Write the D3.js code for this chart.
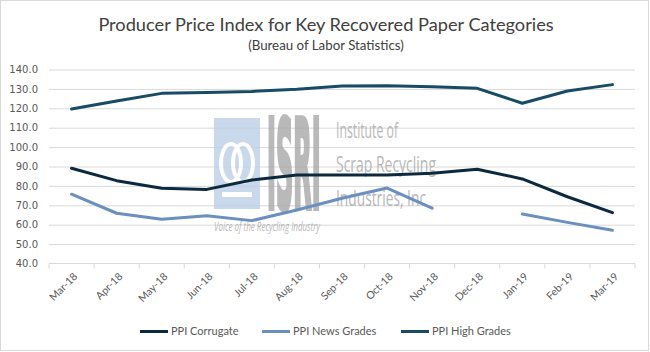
<!DOCTYPE html>
<html>
<head>
<meta charset="utf-8">
<script src="https://cdn.jsdelivr.net/npm/d3@7"></script>
<style>
  body { margin: 0; background: #fff; }
  svg { display: block; }
</style>
</head>
<body>
<div id="wrapper"></div>
<script>
// DATA
const months = ['Mar-18', 'Apr-18', 'May-18', 'Jun-18', 'Jul-18', 'Aug-18', 'Sep-18',
  'Oct-18', 'Nov-18', 'Dec-18', 'Jan-19', 'Feb-19', 'Mar-19']
const corrugate = [89.1, 82.7, 78.8, 78.2, 83.0, 85.6, 85.6, 85.6, 86.5, 88.6, 83.6, 74.4, 66.2]
const newsGrades = [75.7, 65.9, 62.8, 64.6, 62.1, 67.6, 73.6, 78.9, 68.5, null, 65.5, 61.2, 57.1]
const highGrades = [119.6, 123.8, 127.7, 128.2, 128.7, 129.8, 131.5, 131.6, 131.1, 130.3, 122.6, 128.9, 132.2]
const yTicks = [40, 50, 60, 70, 80, 90, 100, 110, 120, 130, 140]

const seriesNames = ['PPI Corrugate', 'PPI News Grades', 'PPI High Grades']
const seriesColors = ['#0c2a3f', '#6a8fc0', '#184b66']

function drawChart() {
  const series = [corrugate, newsGrades, highGrades].map((vals, i) => ({
    name: seriesNames[i],
    color: seriesColors[i],
    values: vals.map((v, j) => ({ month: months[j], value: v }))
  }))

  // DIMENSIONS
  const dimensions = {
    width: 650,
    height: 352,
    margin: { top: 69.5, right: 15, bottom: 88.5, left: 49 }
  }
  dimensions.boundedWidth = dimensions.width - dimensions.margin.left - dimensions.margin.right
  dimensions.boundedHeight = dimensions.height - dimensions.margin.top - dimensions.margin.bottom

  const wrapper = d3.select('#wrapper')
    .append('svg')
    .attr('width', dimensions.width)
    .attr('height', dimensions.height)

  // outer border
  wrapper.append('rect')
    .attr('x', 0.5).attr('y', 0.5)
    .attr('width', 648).attr('height', 350)
    .attr('fill', '#fff')
    .attr('stroke', '#d9d9d9')

  const bounds = wrapper.append('g')
    .attr('transform', `translate(${dimensions.margin.left}, ${dimensions.margin.top})`)

  // SCALES
  const xScale = d3.scaleBand()
    .domain(months)
    .range([0, dimensions.boundedWidth])
    .padding(0)

  const yScale = d3.scaleLinear()
    .domain([40, 140])
    .range([dimensions.boundedHeight, 0])

  const xCenter = d => xScale(d.month) + xScale.bandwidth() / 2

  // gridlines
  const grid = bounds.append('g')
    .call(d3.axisLeft(yScale)
      .tickValues(yTicks.filter(t => t > 40))
      .tickSize(-dimensions.boundedWidth)
      .tickFormat(''))
  grid.select('.domain').remove()
  grid.selectAll('line').attr('stroke', '#d9d9d9').attr('stroke-width', 1)

  // y axis labels
  const yAxis = bounds.append('g')
    .call(d3.axisLeft(yScale)
      .tickValues(yTicks)
      .tickSize(0)
      .tickPadding(11)
      .tickFormat(d3.format('.1f')))
  yAxis.select('.domain').remove()
  yAxis.selectAll('text')
    .attr('fill', '#595959')
    .style('font-family', '"DejaVu Sans", Verdana, sans-serif')
    .style('font-size', '10px')

  // x axis baseline and tick marks at band edges
  const xAxis = bounds.append('g')
    .attr('transform', `translate(0, ${dimensions.boundedHeight})`)
  xAxis.append('line')
    .attr('x1', 0).attr('x2', dimensions.boundedWidth)
    .attr('stroke', '#d9d9d9')
  const edges = months.map(m => xScale(m)).concat([dimensions.boundedWidth])
  xAxis.selectAll('.tick-mark')
    .data(edges)
    .join('line')
    .attr('class', 'tick-mark')
    .attr('x1', d => d).attr('x2', d => d)
    .attr('y1', 0).attr('y2', 5)
    .attr('stroke', '#d9d9d9')
  xAxis.selectAll('.x-label')
    .data(months)
    .join('text')
    .attr('class', 'x-label')
    .attr('transform', d => `translate(${xScale(d) + xScale.bandwidth() / 2 + 4}, 11) rotate(-45)`)
    .attr('text-anchor', 'end')
    .attr('dy', '0.35em')
    .attr('fill', '#595959')
    .style('font-family', 'Lato, "Open Sans", sans-serif')
    .style('font-size', '10.5px')
    .text(d => d)

  // WATERMARK (ISRI logo)
  const logo = bounds.append('g')
    .attr('opacity', 0.8)
  const lx = 214 - dimensions.margin.left
  const ly = 118 - dimensions.margin.top
  logo.append('rect')
    .attr('x', lx).attr('y', ly)
    .attr('width', 46).attr('height', 91)
    .attr('fill', '#bccfe6')
  logo.append('ellipse')
    .attr('cx', lx + 17).attr('cy', ly + 45)
    .attr('rx', 10).attr('ry', 19)
    .attr('fill', 'none').attr('stroke', '#fff').attr('stroke-width', 4)
  logo.append('ellipse')
    .attr('cx', lx + 29).attr('cy', ly + 45)
    .attr('rx', 10).attr('ry', 19)
    .attr('fill', 'none').attr('stroke', '#fff').attr('stroke-width', 4)
  logo.append('rect')
    .attr('x', lx + 8).attr('y', ly + 74)
    .attr('width', 30).attr('height', 5)
    .attr('fill', '#fff')
  // tall condensed letters: squeeze a bold face with a transform
  logo.append('text')
    .attr('transform', `translate(${lx + 53}, ${ly + 90}) scale(0.4, 2.05)`)
    .attr('fill', '#a8a8a8')
    .attr('stroke', '#a8a8a8')
    .attr('stroke-width', 3)
    .style('font-family', '"DejaVu Sans", sans-serif')
    .style('font-weight', 'bold')
    .style('font-size', '60px')
    .text('ISRI')
  const logoLines = ['Institute of', 'Scrap Recycling', 'Industries, Inc']
  logo.selectAll('.logo-line')
    .data(logoLines)
    .join('text')
    .attr('class', 'logo-line')
    .attr('x', lx + 122)
    .attr('y', (d, i) => ly + 20 + i * 34)
    .attr('textLength', (d, i) => [62, 100, 90][i])
    .attr('lengthAdjust', 'spacingAndGlyphs')
    .attr('fill', '#a8a8a8')
    .style('font-family', '"Open Sans", sans-serif')
    .style('font-size', '22px')
    .text(d => d)
  logo.append('text')
    .attr('x', lx).attr('y', ly + 113)
    .attr('textLength', 106)
    .attr('lengthAdjust', 'spacingAndGlyphs')
    .attr('fill', '#a8a8a8')
    .style('font-family', '"Open Sans", sans-serif')
    .style('font-style', 'italic')
    .style('font-size', '12px')
    .text('Voice of the Recycling Industry')

  // LINES
  const lineGenerator = d3.line()
    .defined(d => d.value !== null)
    .x(xCenter)
    .y(d => yScale(d.value))

  bounds.selectAll('.series')
    .data(series)
    .join('path')
    .attr('class', 'series')
    .attr('d', d => lineGenerator(d.values))
    .attr('fill', 'none')
    .attr('stroke', d => d.color)
    .attr('stroke-width', 3)
    .attr('stroke-linejoin', 'round')
    .attr('stroke-linecap', 'round')

  // TITLE
  wrapper.append('text')
    .attr('x', 326).attr('y', 30.5)
    .attr('text-anchor', 'middle')
    .attr('fill', '#404040')
    .style('font-family', 'Lato, "Open Sans", sans-serif')
    .style('font-size', '18.2px')
    .text('Producer Price Index for Key Recovered Paper Categories')
  wrapper.append('text')
    .attr('x', 326).attr('y', 50)
    .attr('text-anchor', 'middle')
    .attr('fill', '#404040')
    .style('font-family', 'Lato, "Open Sans", sans-serif')
    .style('font-size', '13.3px')
    .text('(Bureau of Labor Statistics)')

  // LEGEND
  const legendX = [140, 262, 401]
  const legend = wrapper.selectAll('.legend')
    .data(series)
    .join('g')
    .attr('class', 'legend')
    .attr('transform', (d, i) => `translate(${legendX[i]}, 331.5)`)
  legend.append('line')
    .attr('x1', 0).attr('x2', 28)
    .attr('stroke', d => d.color)
    .attr('stroke-width', 3)
  legend.append('text')
    .attr('x', 31)
    .attr('dy', '0.35em')
    .attr('fill', '#595959')
    .style('font-family', 'Lato, "Open Sans", sans-serif')
    .style('font-size', '11px')
    .text(d => d.name)
}

drawChart()
</script>
</body>
</html>
